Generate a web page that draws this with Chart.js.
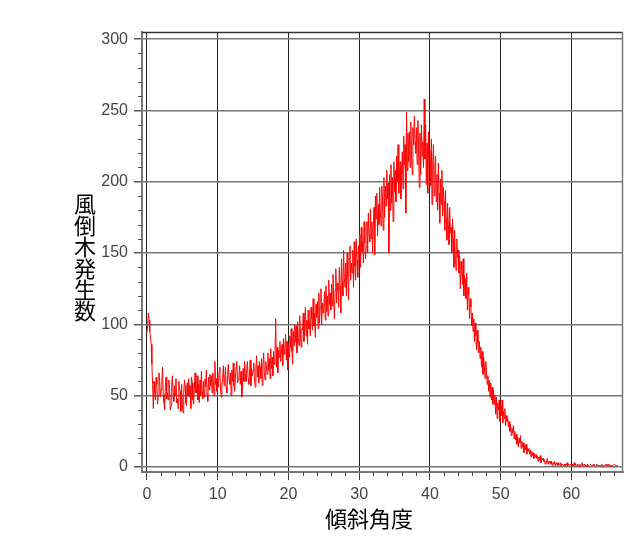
<!DOCTYPE html>
<html>
<head>
<meta charset="utf-8">
<script src="https://cdn.jsdelivr.net/npm/chart.js@4"></script>
<style>
  html, body { margin: 0; padding: 0; background: #fff; }
  canvas { display: block; }
</style>
</head>
<body>
<canvas id="chart" width="630" height="540"></canvas>
<script>
const xTitle = '傾斜角度';
const yTitle = '風倒木発生数';
const xTicks = [0, 10, 20, 30, 40, 50, 60];
const yTicks = [0, 50, 100, 150, 200, 250, 300];
const angleStep = 0.1;

// one row per degree, bins of 0.1 deg
const counts = [
  94, 99, 108, 103, 95, 91, 86, 72, 58, 41,
  60, 52, 47, 63, 58, 44, 50, 66, 61, 49,
  54, 59, 70, 51, 45, 40, 56, 63, 48, 52,
  47, 61, 55, 40, 43, 58, 64, 52, 46, 57,
  50, 62, 45, 48, 41, 60, 55, 53, 39, 58,
  44, 38, 52, 61, 57, 45, 43, 59, 50, 62,
  49, 57, 41, 63, 59, 47, 44, 55, 66, 52,
  52, 64, 47, 58, 45, 61, 50, 67, 53, 48,
  60, 49, 62, 56, 68, 51, 46, 63, 54, 65,
  57, 64, 52, 66, 59, 50, 74, 58, 62, 53,
  63, 56, 67, 70, 54, 49, 58, 62, 71, 57,
  61, 70, 56, 52, 64, 72, 62, 58, 66, 50,
  68, 60, 73, 57, 53, 62, 70, 74, 59, 61,
  64, 71, 58, 67, 49, 55, 69, 60, 74, 65,
  60, 68, 74, 62, 58, 66, 75, 57, 69, 64,
  67, 73, 61, 56, 70, 78, 63, 71, 59, 74,
  70, 62, 76, 57, 72, 80, 66, 61, 74, 70,
  65, 80, 68, 76, 62, 83, 69, 77, 64, 81,
  72, 79, 104, 70, 84, 66, 82, 77, 88, 74,
  80, 86, 71, 90, 79, 84, 93, 75, 88, 68,
  86, 77, 92, 84, 97, 81, 72, 95, 85, 100,
  88, 99, 80, 102, 91, 85, 106, 93, 84, 97,
  96, 108, 88, 101, 112, 92, 103, 86, 110, 97,
  102, 92, 112, 104, 96, 118, 99, 108, 91, 114,
  105, 116, 97, 122, 101, 112, 125, 100, 115, 108,
  112, 123, 103, 127, 109, 120, 106, 131, 114, 122,
  110, 128, 113, 135, 117, 104, 124, 139, 115, 129,
  124, 112, 140, 127, 108, 146, 130, 120, 152, 133,
  126, 143, 120, 150, 134, 117, 146, 155, 131, 143,
  136, 152, 126, 158, 141, 131, 160, 145, 133, 155,
  148, 163, 140, 168, 151, 158, 143, 172, 157, 146,
  154, 172, 150, 178, 163, 158, 181, 160, 172, 150,
  168, 182, 149, 190, 174, 192, 162, 184, 170, 196,
  178, 169, 197, 186, 166, 203, 175, 197, 183, 208,
  188, 199, 150, 205, 180, 212, 185, 203, 172, 214,
  193, 208, 186, 218, 200, 226, 192, 204, 214, 188,
  204, 221, 195, 232, 212, 226, 178, 249, 208, 234,
  214, 235, 210, 242, 222, 205, 238, 226, 246, 228,
  220, 238, 212, 243, 225, 196, 234, 205, 240, 218,
  228, 210, 258, 216, 240, 198, 227, 192, 235, 212,
  222, 197, 230, 184, 214, 226, 190, 210, 218, 186,
  205, 180, 213, 192, 171, 202, 184, 208, 176, 196,
  186, 166, 194, 174, 159, 185, 170, 156, 182, 164,
  168, 150, 174, 160, 140, 166, 145, 138, 160, 147,
  152, 136, 148, 125, 144, 139, 128, 146, 120, 134,
  131, 118, 136, 110, 126, 121, 104, 118, 112, 99,
  108, 95, 104, 88, 101, 92, 82, 96, 87, 80,
  88, 76, 84, 70, 81, 65, 77, 71, 62, 74,
  67, 58, 64, 53, 61, 49, 59, 47, 56, 44,
  54, 44, 50, 37, 49, 34, 45, 40, 47, 32,
  42, 36, 47, 31, 39, 34, 41, 29, 36, 32,
  34, 28, 32, 25, 30, 22, 27, 24, 29, 20,
  25, 19, 23, 16, 21, 14, 20, 17, 22, 13,
  18, 14, 17, 10, 15, 12, 16, 9, 13, 11,
  13, 9, 12, 7, 11, 8, 10, 6, 9, 7,
  9, 6, 8, 4, 7, 5, 8, 3, 6, 5,
  6, 4, 5, 2, 4, 3, 6, 2, 4, 3,
  4, 2, 4, 1, 3, 2, 4, 1, 3, 2,
  3, 1, 3, 2, 1, 3, 1, 2, 2, 1,
  2, 1, 2, 1, 3, 1, 2, 1, 1, 2,
  1, 2, 1, 1, 3, 1, 2, 1, 1, 2,
  1, 0, 2, 1, 1, 3, 1, 1, 2, 1,
  1, 1, 0, 2, 1, 1, 1, 2, 1, 1,
  1, 2, 1, 1, 0, 1, 2, 1, 1, 1,
  1, 1, 1, 2, 1, 0, 1, 1, 1, 2,
  1, 1, 2, 1, 1, 1, 0, 1, 1, 1,
  1, 2, 1, 1, 1, 1, 1, 1
];

const angles = counts.map((_, i) => +(i * angleStep).toFixed(1));
const tickFont = { family: '"Liberation Sans", Arial, sans-serif', size: 16 };

// minor ticks, frame and the two axis titles
const extras = {
  id: 'extras',
  afterDraw(chart) {
    const { ctx, chartArea: a, scales: { x, y } } = chart;
    ctx.save();
    ctx.lineWidth = 1.5;
    ctx.strokeStyle = '#333';
    ctx.beginPath();
    ctx.moveTo(a.left, a.top + 0.5);
    ctx.lineTo(a.right, a.top + 0.5);
    ctx.stroke();
    ctx.strokeStyle = '#777';
    ctx.beginPath();
    ctx.moveTo(a.right - 0.5, a.top);
    ctx.lineTo(a.right - 0.5, a.bottom);
    ctx.stroke();

    ctx.strokeStyle = '#444';
    ctx.lineWidth = 1;
    ctx.beginPath();
    for (let v = 2; v < 67; v += 2) {
      if (v % 10 === 0) continue;
      const px = Math.round(x.getPixelForValue(v)) + 0.5;
      ctx.moveTo(px, a.bottom);
      ctx.lineTo(px, a.bottom + 4);
    }
    for (let v = 10; v < 300; v += 10) {
      if (v % 50 === 0) continue;
      const py = Math.round(y.getPixelForValue(v)) + 0.5;
      ctx.moveTo(a.left, py);
      ctx.lineTo(a.left - 4, py);
    }
    ctx.stroke();

    ctx.fillStyle = '#000';
    ctx.font = '22px "Noto Sans CJK JP", sans-serif';
    ctx.textAlign = 'center';
    ctx.textBaseline = 'middle';
    ctx.fillText(xTitle, 369, 519);
    [...yTitle].forEach((ch, i) => ctx.fillText(ch, 85, 204 + i * 21.4));
    ctx.restore();
  }
};

new Chart(document.getElementById('chart'), {
  type: 'line',
  data: {
    datasets: [{
      data: angles.map((a, i) => ({ x: a, y: counts[i] })),
      borderColor: '#ff0000',
      borderWidth: 1,
      pointRadius: 0,
      fill: false,
      tension: 0
    }]
  },
  options: {
    responsive: false,
    animation: false,
    layout: { padding: { top: 32, right: 7, left: 0, bottom: 0 } },
    plugins: { legend: { display: false }, tooltip: { enabled: false } },
    scales: {
      x: {
        type: 'linear',
        min: -0.7,
        max: 67.3,
        afterBuildTicks: s => { s.ticks = xTicks.map(v => ({ value: v })); },
        afterFit: s => { s.height = 68; },
        ticks: { font: tickFont, color: '#444', padding: 5, maxRotation: 0, autoSkip: false },
        grid: { color: '#222', lineWidth: 1, tickLength: 8, tickColor: '#444' },
        border: { color: '#777', width: 2 }
      },
      y: {
        min: -3.5,
        max: 305,
        afterBuildTicks: s => { s.ticks = yTicks.map(v => ({ value: v })); },
        afterFit: s => { s.width = 142; },
        ticks: { font: tickFont, color: '#444', padding: 6 },
        grid: { color: '#777', lineWidth: 1.5, tickLength: 8, tickColor: '#555' },
        border: { color: '#777', width: 2 }
      }
    }
  },
  plugins: [extras]
});
</script>
</body>
</html>
